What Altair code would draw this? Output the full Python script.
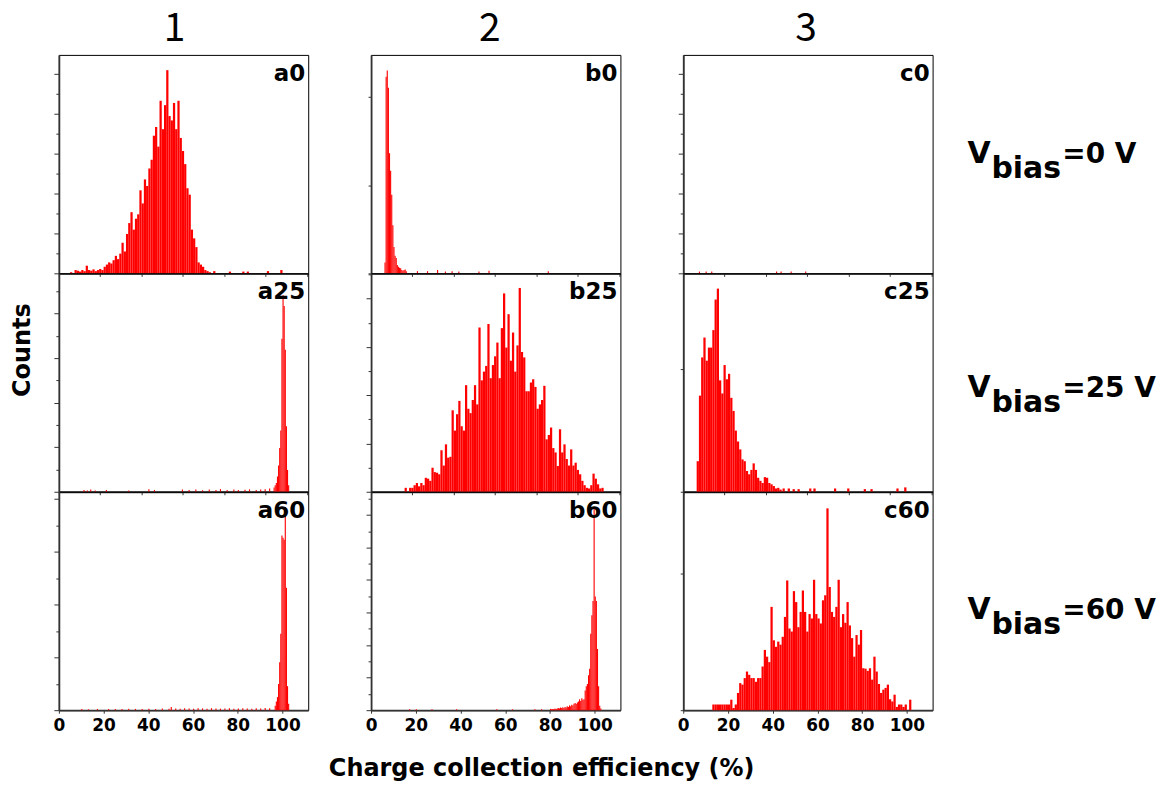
import altair as alt
import pandas as pd

# ---------------- data (heights in % of panel height) ----------------
# a0 : 1-unit bins starting at 5
A0_START, A0_W = 5, 1.0
A0_H = [0.5, 0, 1.5, 1.2, 0.8, 1.5, 1.0, 3.5, 1.5, 1.2, 1.8, 1.0, 1.5, 2.0, 1.5,
        3.0, 4.0, 5.0, 4.5, 6.0, 8.0, 6.5, 9.0, 14, 10, 18, 23, 28, 20, 25, 27,
        38, 32, 43, 40, 48, 52, 63, 67, 58, 79, 66, 77, 93, 72, 70, 78, 66, 79,
        62, 56, 50, 39, 36, 20, 16, 12, 5, 4, 3, 1.5, 1, 0.5, 0, 1]
A0_SX = [76, 82, 84, 93, 99]
A0_SH = [0.8, 0.8, 0.8, 1.0, 1.5]

# b0 : 0.5-unit bins starting at 6
B0_START, B0_W = 6.0, 0.5
B0_H = [5, 90, 92.8, 85, 55, 47, 36, 22, 12, 8, 7, 3.8, 3, 2.5, 2.3, 1.5, 1.2,
        1.5, 1.8, 1.0]
B0_SX = [20.5, 25, 29.5, 33, 36, 39, 48, 52.5, 79]
B0_SH = [1.0, 1.0, 1.5, 0.8, 1.0, 0.8, 0.8, 1.2, 1.0]

# c0 : only a few isolated counts
C0_START, C0_W = 0.0, 0.5
C0_H = []
C0_SX = [7, 10, 12.5, 41.5, 43.5, 48, 54.5]
C0_SH = [0.8, 0.8, 0.8, 0.8, 0.8, 0.8, 0.8]

# a25 : 0.5-unit bins starting at 96
A25_START, A25_W = 96.0, 0.5
A25_H = [2, 3, 4, 7, 12, 20, 28, 70, 90, 85, 65, 30, 10, 3]
A25_SX = [11, 12.5, 14, 16, 21, 31, 40, 42.5, 55, 58, 61, 64, 67, 70, 72, 75,
          78, 80, 83, 85, 88, 90, 92, 94]
A25_SH = [0.8, 0.6, 1.0, 0.6, 0.8, 0.6, 1.2, 0.8, 1.0, 0.8, 1.0, 0.7, 1.0, 0.8,
          1.2, 0.8, 1.0, 0.8, 0.9, 1.1, 0.8, 1.0, 1.2, 1.5]

# b25 : 1-unit bins starting at 15
B25_START, B25_W = 15, 1.0
B25_H = [1.8, 0, 1.8, 1.8, 3, 4, 2.5, 4, 3, 6.4, 6, 5, 11, 9, 8.7, 8, 19, 12,
         21.7, 15.6, 16, 37.3, 28, 35.5, 41.6, 30, 28, 48.8, 38, 36, 42, 48.8,
         40, 75.2, 51, 55, 57.6, 76.8, 52, 58, 62, 68.3, 52, 74.9, 90.8, 66,
         81.3, 60, 72.9, 55, 67, 93.3, 64, 61.5, 46, 46, 50, 51.5, 48, 38, 40,
         42, 48.5, 24, 26, 29.4, 20, 18, 11.8, 28.6, 18, 21.7, 15, 12, 19.4, 12,
         13.3, 10, 8, 5, 3, 1.8, 1.5, 3, 8.3, 6, 3.4, 1.5, 1.8]
B25_SX = []
B25_SH = []

# c25 : 1-unit bins starting at 6
C25_START, C25_W = 6, 1.0
C25_H = [14, 44, 61.5, 70.6, 60, 66, 66, 74, 88, 93, 51, 45, 58, 51.5, 54, 43,
         37, 28, 23, 19.4, 14.8, 14, 9.5, 8, 10, 13, 10, 6.4, 5, 4, 6.7, 6.4, 4,
         3.4, 2.6, 1.5, 1.8, 1]
C25_SX = [44.4, 46.7, 48.9, 51.1, 56.3, 58.2, 67.4, 73.3, 80.7, 83.7, 95.3, 98.8]
C25_SH = [1.5, 1.5, 1.2, 1.2, 1.5, 1.5, 1.5, 1.5, 1.2, 1.2, 1.5, 2.0]

# a60 : 0.5-unit bins starting at 96.5
A60_START, A60_W = 96.5, 0.5
A60_H = [2, 4, 6, 12, 22, 35, 80, 79, 78, 93, 56, 11, 3]
A60_SX = [10, 13, 17, 22, 25, 28, 31, 34, 37, 40, 43, 46, 49, 50, 52, 54, 56,
          58, 60, 62, 64, 66, 68, 70, 72, 74, 76, 78, 80, 82, 84, 86, 88, 90,
          92, 94]
A60_SH = [0.5, 0.4, 0.6, 0.5, 0.6, 0.5, 0.7, 0.6, 0.5, 0.7, 0.6, 0.8, 0.7, 1.5,
          0.8, 0.7, 0.9, 0.8, 0.7, 0.9, 0.8, 0.7, 0.9, 0.8, 0.7, 0.8, 0.9, 0.7,
          0.8, 0.9, 0.8, 0.7, 0.9, 0.8, 1.0, 0.9]

# b60 : 0.5-unit bins starting at 80
B60_START, B60_W = 80.0, 0.5
B60_H = [0.6, 0.4, 0.6, 0.5, 0.8, 0.6, 0.8, 1.0, 0.8, 1.2, 1.0, 1.3, 1.0, 1.5,
         1.2, 1.8, 1.5, 2.2, 1.8, 2.5, 2.2, 3.0, 3.3, 2.8, 3.5, 4.0, 5.0, 4.2,
         5.5, 4.8, 5.0, 9.0, 11, 12, 16, 19, 35, 43.5, 50, 92.7, 52, 50, 28, 11,
         2, 0.8]
B60_SX = [17, 20, 27, 38, 56, 63, 73, 76]
B60_SH = [0.4, 0.4, 0.4, 0.4, 0.4, 0.4, 0.4, 0.4]

# c60 : 1-unit bins starting at 13
C60_START, C60_W = 13, 1.0
C60_H = [2.6, 2.6, 2.6, 2.6, 2.6, 2.6, 2.6, 2.6, 4.8, 1, 2.6, 7.9, 12.4, 11.7,
         14.7, 17.7, 16.2, 14.7, 14.7, 13, 14.7, 14.7, 20, 27.6, 24.5, 22, 47.3,
         32, 29, 31.4, 30, 33.6, 42.7, 59.4, 37.4, 36, 54.5, 49.5, 38, 45, 54.8,
         45, 36, 44, 42, 59.7, 44, 42, 39.7, 50.3, 52.6, 92.4, 56.4, 45, 42.7,
         47.3, 59.7, 38, 44, 40, 49.5, 38.8, 33, 24.5, 34.4, 30, 36.7, 19.2, 19,
         18, 19.2, 14, 24.5, 17.7, 12, 7.9, 9.4, 10.2, 11.7, 5, 4, 7.1, 1.5, 2.6,
         2.6, 1.5, 2.6, 0, 4.8]
C60_SX = []
C60_SH = []

PANEL_LABELS = [["a0", "b0", "c0"], ["a25", "b25", "c25"], ["a60", "b60", "c60"]]
COL_TITLES = ["1", "2", "3"]
ROW_VALUES = ["=0 V", "=25 V", "=60 V"]
X_TICKS = [0, 20, 40, 60, 80, 100]
X_TICKS_INNER = [0, 18.5, 37, 55.5, 74, 92.5, 111]
# y tick spacing (in % of panel height) and whether major/minor alternate
Y_STEP = [[9.13, 40.4, 9.13], [10.2, 11.05, 56.0], [12.1, 7.45, 62.4]]
Y_ALT = [[True, False, True], [True, True, False], [True, True, False]]

DATA = [
    [(A0_START, A0_W, A0_H, A0_SX, A0_SH), (B0_START, B0_W, B0_H, B0_SX, B0_SH),
     (C0_START, C0_W, C0_H, C0_SX, C0_SH)],
    [(A25_START, A25_W, A25_H, A25_SX, A25_SH), (B25_START, B25_W, B25_H, B25_SX, B25_SH),
     (C25_START, C25_W, C25_H, C25_SX, C25_SH)],
    [(A60_START, A60_W, A60_H, A60_SX, A60_SH), (B60_START, B60_W, B60_H, B60_SX, B60_SH),
     (C60_START, C60_W, C60_H, C60_SX, C60_SH)],
]

FONT = "DejaVu Sans"
W, H = 250, 219
XDOM = [0, 111.5]
ROW_BASE = [108, 124, 128]
COL_TITLE_X = [116, 119, 123]


def hist_df(start, w, heights, sx, sh):
    rows = []
    for i, h in enumerate(heights):
        if h > 0:
            x = start + i * w
            rows.append({"x": x, "x2": x + w, "h": h})
    for x, h in zip(sx, sh):
        rows.append({"x": x, "x2": x + w, "h": h})
    return pd.DataFrame(rows)


def text_layer(txt, x, y, size, align="left", baseline="alphabetic", weight="bold",
               font=FONT, angle=0):
    kw = dict(align=align, baseline=baseline, fontSize=size, fontWeight=weight,
              font=font, color="#000")
    if angle:
        kw["angle"] = angle
    return alt.Chart(pd.DataFrame({"t": [txt]})).mark_text(**kw).encode(
        x=alt.value(x), y=alt.value(y), text="t:N")


def panel(r, c):
    start, w, hs, sx, sh = DATA[r][c]
    df = hist_df(start, w, hs, sx, sh)
    step = Y_STEP[r][c]
    yvals = [round(i * step, 4) for i in range(int(100 / step) + 1)]
    if Y_ALT[r][c]:
        s2 = 2 * step
        tsize = {"condition": {"test": f"abs(datum.value/{s2} - round(datum.value/{s2})) < 0.01",
                               "value": 5}, "value": 3}
    else:
        tsize = 3
    if r == 2:
        xaxis = alt.Axis(values=X_TICKS, title=None, tickSize=3, labelPadding=4,
                         grid=False, labelFlush=False)
    else:
        xaxis = alt.Axis(values=X_TICKS_INNER, labels=False, title=None, tickSize=3,
                         grid=False)
    bars = alt.Chart(df).mark_bar(color="#ff0000", strokeWidth=0).encode(
        x=alt.X("x:Q", scale=alt.Scale(domain=XDOM, nice=False, zero=False), axis=xaxis),
        x2="x2:Q",
        y=alt.Y("h:Q", scale=alt.Scale(domain=[0, 100], nice=False),
                axis=alt.Axis(values=yvals, labels=False, title=None, tickSize=tsize,
                              grid=False)),
        y2=alt.datum(0),
    )
    layers = [bars, text_layer(PANEL_LABELS[r][c], W - 3, 26, 23, align="right")]
    if r == 0:
        layers.append(text_layer(COL_TITLES[c], COL_TITLE_X[c], -14, 39, align="center",
                                 weight="normal", font="Noto Sans CJK JP"))
    if c == 2:
        b = ROW_BASE[r]
        layers.append(text_layer("V", 285, b, 30))
        layers.append(text_layer("bias", 309, b + 15, 30))
        layers.append(text_layer(ROW_VALUES[r], 380, b, 28))
    if r == 1 and c == 0:
        layers.append(text_layer("Counts", -36, 77, 24, align="center",
                                 baseline="middle", angle=270))
    if r == 2 and c == 1:
        layers.append(text_layer("Charge collection efficiency (%)", 171, 285, 24,
                                 align="center"))
    return alt.layer(*layers).properties(width=W, height=H)


panels = [panel(r, c) for r in range(3) for c in range(3)]
chart = alt.concat(*panels, columns=3, spacing={"row": 0, "column": 63},
                   bounds="flush").properties(
    padding={"left": 2, "top": 0, "right": 5, "bottom": 5}
).configure_view(stroke="#000", strokeWidth=1).configure_axis(
    domainColor="#333", domainWidth=1.8, tickColor="#333", tickWidth=1,
    labelFont=FONT, labelFontWeight="bold", labelFontSize=17, labelColor="#000"
)

chart.save("out.html", embed_options={"renderer": "svg", "actions": False})
